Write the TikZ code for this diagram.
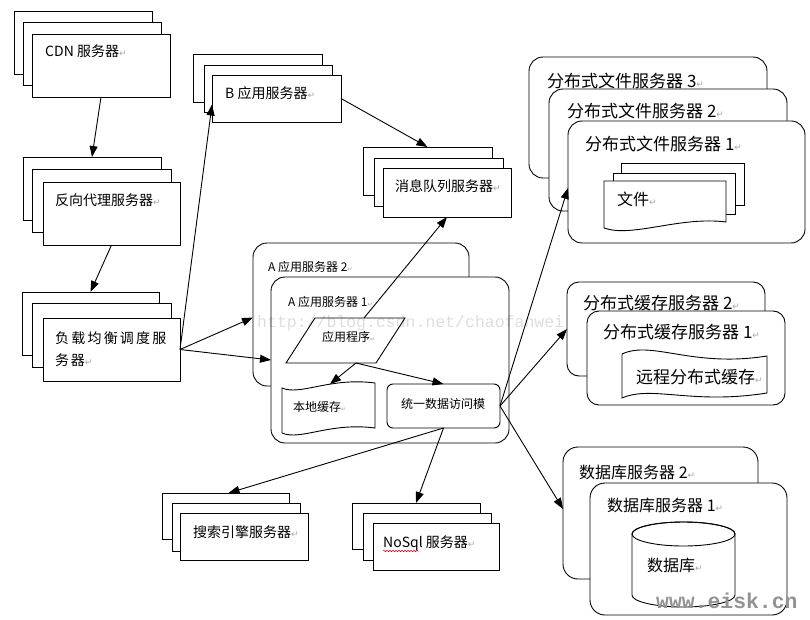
\documentclass[tikz,border=0pt]{standalone}
\usepackage{fontspec}
\setmainfont{Noto Sans CJK SC}
\newfontfamily\djv{DejaVu Sans}
\newfontfamily\wmono{Liberation Mono}
\usetikzlibrary{arrows.meta,decorations.pathmorphing}
\newcommand\retmark{{\color{gray!70}\djv\fontsize{9}{9}\selectfont ↵}}
\newcommand\smallmark{{\color{gray!70}\djv\fontsize{6}{6}\selectfont ↵}}
\begin{document}
\begin{tikzpicture}[x=1pt,y=-1pt,
 box/.style={draw, fill=white, line width=0.9pt, inner sep=0pt, outer sep=0pt, anchor=north west},
 rbox/.style={box, rounded corners=14pt},
 lbl/.style={anchor=base west, inner sep=0pt, font=\fontsize{14}{16}\selectfont},
 lblL/.style={lbl, font=\fontsize{17}{19}\selectfont},
 lblM/.style={lbl, font=\fontsize{16}{18}\selectfont},
 lblS/.style={lbl, font=\fontsize{12}{14}\selectfont},
 arr/.style={line width=0.9pt, -{Triangle[length=11pt,width=8pt]}},
 shp/.style={draw, fill=white, line width=0.9pt}
]
\useasboundingbox[fill=white] (0,0) rectangle (810,620);

% CDN
\node[box, minimum width=138, minimum height=63] (cdn1) at (14,11) {};
\node[box, minimum width=138, minimum height=63] (cdn2) at (23,22) {};
\node[box, minimum width=138, minimum height=63] (cdn3) at (32,34) {};
\node[lbl] (cdnT) at (45,57) {CDN 服务器\retmark};

% reverse proxy
\node[box, minimum width=138, minimum height=63] (px1) at (23,157) {};
\node[box, minimum width=139, minimum height=63] (px2) at (32,169) {};
\node[box, minimum width=137, minimum height=63] (px3) at (43,182) {};
\node[lbl] (pxT) at (55,206) {反向代理服务器\retmark};

% load balancer
\node[box, minimum width=137, minimum height=63] (lb1) at (22,292) {};
\node[box, minimum width=139, minimum height=64] (lb2) at (32,303) {};
\node[box, minimum width=137, minimum height=63] (lb3) at (43,318) {};
\node[lbl] (lbT) at (55,343) {\makebox[16.2pt][l]{负}\makebox[16.2pt][l]{载}\makebox[16.2pt][l]{均}\makebox[16.2pt][l]{衡}\makebox[16.2pt][l]{调}\makebox[16.2pt][l]{度}服};
\node[lbl] (lbT2) at (55,365) {\makebox[15.7pt][l]{务}器\retmark};

% B app servers
\node[box, minimum width=129, minimum height=48] (b1) at (193,54) {};
\node[box, minimum width=128, minimum height=47] (b2) at (204,65) {};
\node[box, minimum width=129, minimum height=47] (b3) at (212,75) {};
\node[lbl] (bT) at (225,99) {B 应用服务器\retmark};

% message queue
\node[box, minimum width=129, minimum height=48] (mq1) at (363,147) {};
\node[box, minimum width=129, minimum height=48] (mq2) at (374,158) {};
\node[box, minimum width=128, minimum height=49] (mq3) at (383,168) {};
\node[lbl] (mqT) at (395,192) {消息队列服务器\retmark};

% distributed file servers
\node[rbox, minimum width=238, minimum height=121] (fs3) at (529,57) {};
\node[lblL] (fs3T) at (547,88) {分布式文件服务器 3\retmark};
\node[rbox, minimum width=238, minimum height=122] (fs2) at (549,89) {};
\node[lblL] (fs2T) at (567,118) {分布式文件服务器 2\retmark};
\node[rbox, minimum width=237, minimum height=122] (fs1) at (568,121) {};
\node[lblL] (fs1T) at (585,151) {分布式文件服务器 1\retmark};
\node[box, minimum width=123, minimum height=42] (d1) at (621,163) {};
\node[box, minimum width=122, minimum height=41] (d2) at (613,173) {};
\draw[shp] (604,181) -- (726,181) -- (726,222) .. controls (680,216) and (632,238) .. (604,228) -- cycle;
\node[lblM] (docT) at (617,206) {文件\retmark};

% A app servers
\node[rbox, minimum width=216, minimum height=143] (a2) at (253,243) {};
\node[lblS] (a2T) at (268,271) {A 应用服务器 2\smallmark};
\node[rbox, minimum width=238, minimum height=166] (a1) at (271,277) {};
\node[lblS] (a1T) at (288,306) {A 应用服务器 1\smallmark};
\draw[shp] (315,318) -- (405,318) -- (376,363) -- (286,363) -- cycle;
\node[lblS] (app) at (322,341) {应用程序\smallmark};
\coordinate (appTop) at (364,318);
\coordinate (appBot) at (356,363);
% local cache
\draw[shp] (282,388) .. controls (300,396) and (330,377) .. (375,383) -- (375,428) .. controls (330,422) and (300,441) .. (282,433) -- cycle;
\node[lblS] (lc) at (293,411) {本地缓存\smallmark};
\coordinate (lcTop) at (330,384);
% data access
\node[box, rounded corners=6pt, minimum width=113, minimum height=44] (dm) at (387,384) {};
\node[lblS] (dmT) at (401,408) {统一数据访问模};

% distributed cache servers
\node[rbox, rounded corners=12pt, minimum width=198, minimum height=94] (cs2) at (567,282) {};
\node[lblL] (cs2T) at (583,309) {分布式缓存服务器 2\retmark};
\node[rbox, rounded corners=12pt, minimum width=198, minimum height=94] (cs1) at (587,311) {};
\node[lblL] (cs1T) at (603,338) {分布式缓存服务器 1\retmark};
\draw[shp] (622,354) .. controls (652,340) and (692,368) .. (767,356) -- (767,393) .. controls (692,405) and (652,385) .. (622,398) -- cycle;
\node[lblL] (rc) at (636,383) {远程分布式缓存\retmark};

% database servers
\node[rbox, rounded corners=15pt, minimum width=195, minimum height=132] (db2) at (563,447) {};
\node[lblM] (db2T) at (579,478) {数据库服务器 2\retmark};
\node[rbox, rounded corners=15pt, minimum width=197, minimum height=132] (db1) at (590,483) {};
\node[lblM] (db1T) at (607,511) {数据库服务器 1\retmark};
\draw[shp] (632,534) -- (632,595) arc[start angle=180, end angle=360, x radius=51.5pt, y radius=12pt] -- (735,534) arc[start angle=0, end angle=180, x radius=51.5pt, y radius=12pt] -- cycle;
\draw[line width=0.9pt] (683.5,534) ellipse[x radius=51.5pt, y radius=12pt];
\node[lblM] (dbT) at (647,571) {数据库\retmark};

% search
\node[box, minimum width=127, minimum height=46] (s1) at (162,493) {};
\node[box, minimum width=128, minimum height=48] (s2) at (172,503) {};
\node[box, minimum width=128, minimum height=47] (s3) at (180,513) {};
\node[lbl] (sT) at (193,537) {搜索引擎服务器\retmark};

% NoSQL
\node[box, minimum width=128, minimum height=46] (n1) at (352,503) {};
\node[box, minimum width=128, minimum height=47] (n2) at (363,513) {};
\node[box, minimum width=126, minimum height=47] (n3) at (373,523) {};
\node[lbl] (nT) at (383,547) {NoSql 服务器\retmark};
\draw[red!80!black, line width=0.5pt, decorate, decoration={snake, amplitude=0.7pt, segment length=3pt}] (383,551) -- (419,551);

% connectors
\draw[arr] (cdn3.south) -- (px1.north);
\draw[arr] (px3.south) -- (lb1.north);
\draw[arr] (lb3.east) -- ([yshift=-6pt]b3.west);
\draw[arr] (lb3.east) -- ([yshift=-3pt]a2.west);
\draw[arr] (lb3.east) -- (a1.west);
\draw[arr] (b3.east) -- (mq1.north);
\draw[arr] (appTop) -- (mq3.south);
\draw[arr] (appBot) -- (lcTop);
\draw[arr] (appBot) -- (dm.north);
\draw[arr] (dm.south) -- ([xshift=3pt]s1.north);
\draw[arr] (dm.south) -- (n1.north);
\draw[arr] (dm.east) -- ([yshift=-6pt]fs1.west);
\draw[arr] (dm.east) -- (cs2.west);
\draw[arr] (dm.east) -- ([yshift=4pt]db2.west);

% watermarks
\node[anchor=base west, inner sep=0pt, text=black, text opacity=0.13, font=\wmono\fontsize{16.5}{18}\selectfont] (wm1) at (257,327) {http://blog.csdn.net/chaofanwei};
\node[anchor=base west, inner sep=0pt, text=gray!85, font=\wmono\bfseries\fontsize{21.4}{24}\selectfont] (wm2) at (656,608) {www.eisk.cn};
\end{tikzpicture}
\end{document}
